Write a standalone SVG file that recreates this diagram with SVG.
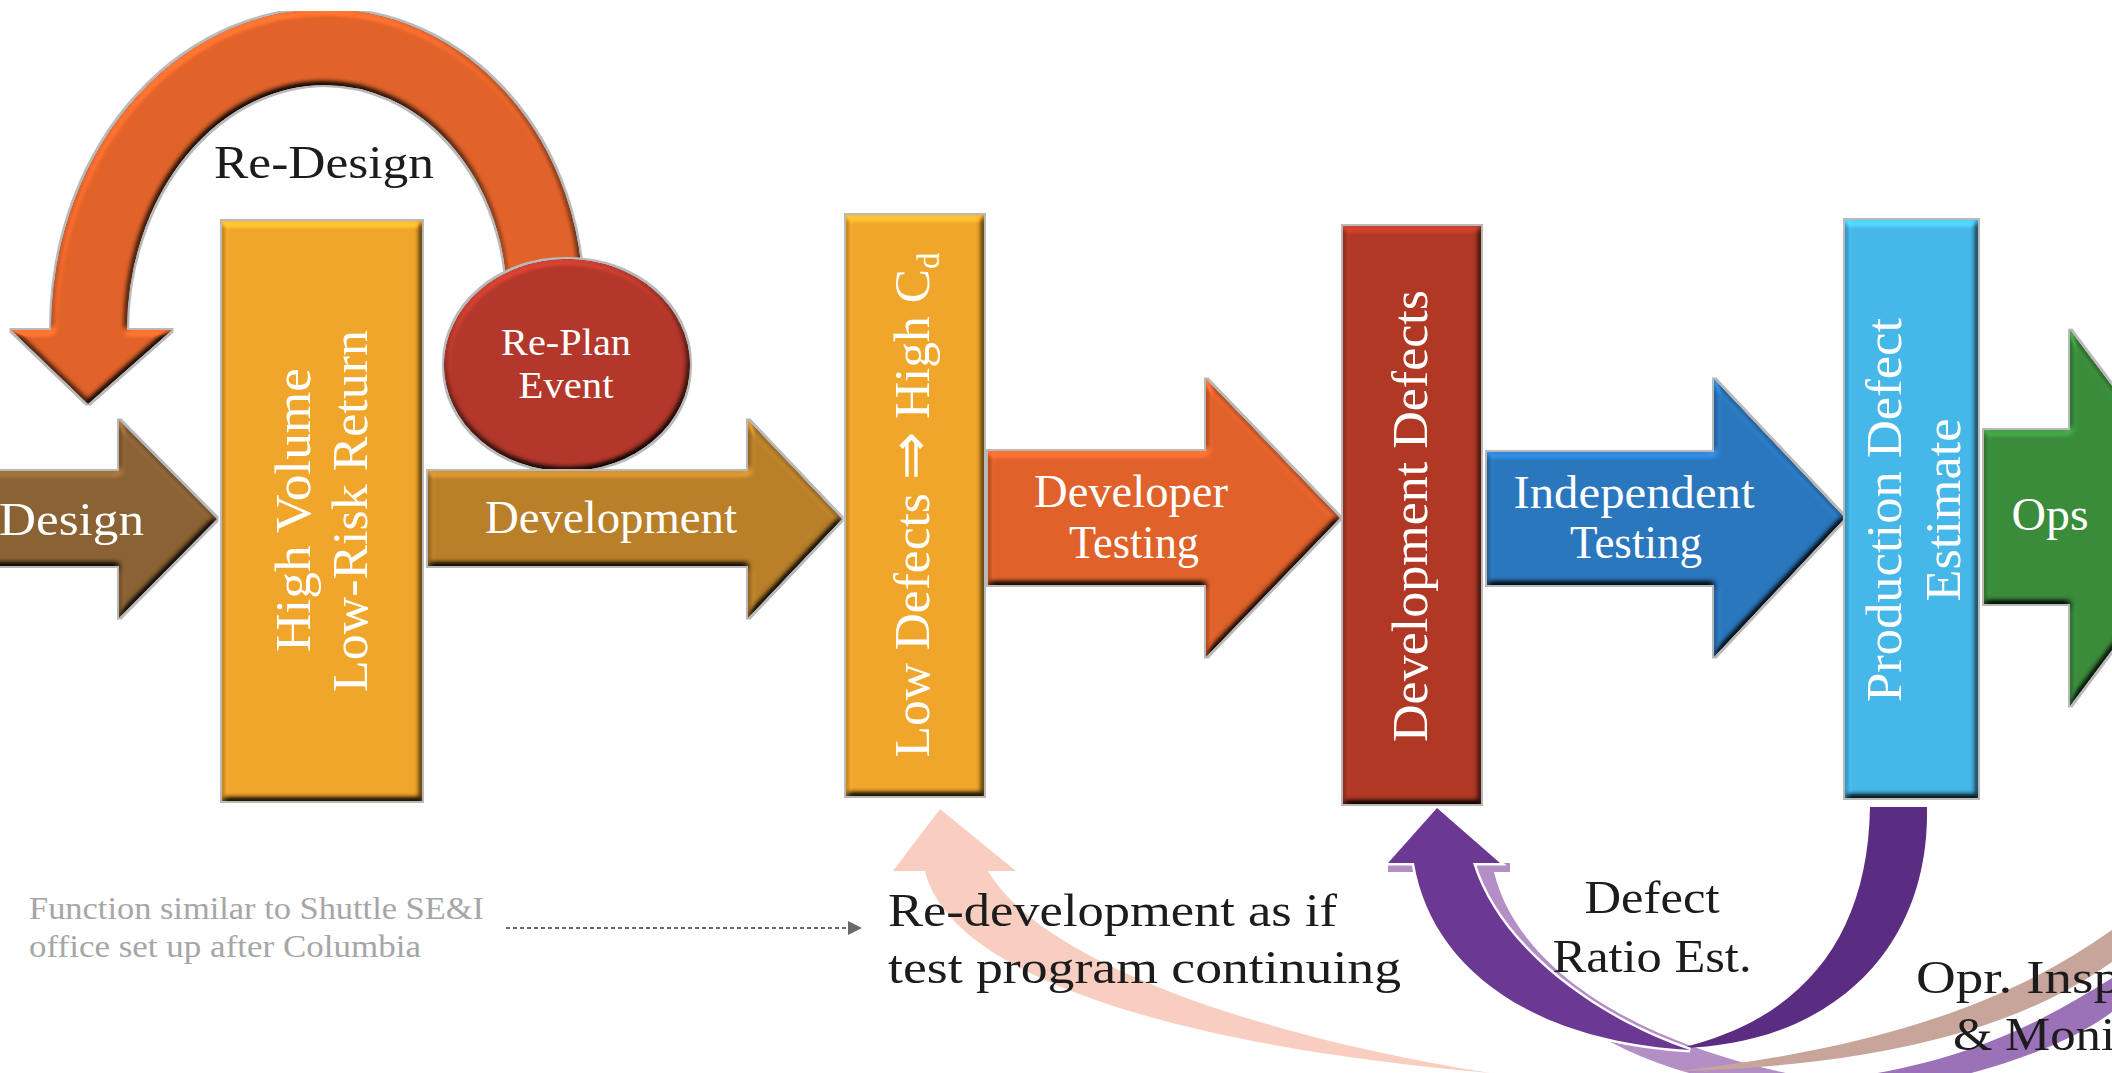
<svg xmlns="http://www.w3.org/2000/svg" width="2112" height="1073" viewBox="0 0 2112 1073">
  <defs>
    <!-- bevelled, lit look with a light grey rim for the process shapes -->
    <filter id="bevel" x="-10%" y="-10%" width="120%" height="120%" color-interpolation-filters="sRGB">
      <feMorphology in="SourceAlpha" operator="dilate" radius="2" result="grow"/>
      <feFlood flood-color="#b9b9b9" result="grey"/>
      <feComposite in="grey" in2="grow" operator="in" result="rim"/>
      <feGaussianBlur in="SourceAlpha" stdDeviation="3" result="blur"/>
      <feDiffuseLighting in="blur" surfaceScale="5" diffuseConstant="1" lighting-color="#ffffff" result="light">
        <feDistantLight azimuth="250" elevation="55"/>
      </feDiffuseLighting>
      <feComposite in="SourceGraphic" in2="light" operator="arithmetic" k1="1.22" k2="0" k3="0" k4="0" result="lit"/>
      <feComposite in="lit" in2="SourceAlpha" operator="in" result="shape"/>
      <feMerge>
        <feMergeNode in="rim"/>
        <feMergeNode in="shape"/>
      </feMerge>
    </filter>
    <marker id="tri" viewBox="0 0 10 10" refX="0" refY="5" markerWidth="14" markerHeight="14" markerUnits="userSpaceOnUse" orient="auto" preserveAspectRatio="none">
      <path d="M0,0 L10,5 L0,10 Z" fill="#6a6a6a"/>
    </marker>
  </defs>
  <style>
    .bev { filter: url(#bevel); }
    .t { font-family: "Liberation Serif", "Times New Roman", serif; }
    .w { fill: #ffffff; }
    .k { fill: #1c1c1c; }
    .g { fill: #a6a6a6; }
    .f50 { font-size: 50px; }
    .f47 { font-size: 47px; }
    .f46 { font-size: 46px; }
    .f38 { font-size: 38px; }
    .f31 { font-size: 31px; }
    .mid { text-anchor: middle; }
  </style>

  <rect width="2112" height="1073" fill="#ffffff"/>

  <!-- feedback arrows and pointer -->
  <g id="connectors">
    <g id="redesign-arc" class="bev">
      <path d="M 545 300 A 220 253 0 0 0 325 47 A 236 283 0 0 0 89 331" fill="none" stroke="#e2632a" stroke-width="76"/>
      <polygon points="11,330 172,330 88,404" fill="#e2632a"/>
    </g>
    <path id="redevelop-arrow" fill="#f8cec1" d="M 940 809 L 1016 871 L 988 871 C 1040 960, 1250 1035, 1490 1073 C 1170 1045, 950 975, 925 871 L 893 871 Z"/>
    <path id="ratio-echo" fill="#b48fc6" d="M 1388 863 L 1510 863 L 1510 872 L 1494 872 C 1515 960, 1620 1040, 1800 1076 L 1700 1076 C 1600 1050, 1500 990, 1478 872 L 1388 872 Z"/>
    <path id="opr-band-a" fill="#c8a59b" d="M 2112 930 C 2000 1010, 1860 1050, 1680 1071 C 1860 1066, 2010 1035, 2112 962 Z"/>
    <path id="opr-band-b" fill="#9b71b7" d="M 2112 978 C 2030 1030, 1960 1060, 1860 1076 L 1960 1076 C 2030 1058, 2080 1036, 2112 1012 Z"/>
    <path id="ratio-down" fill="#5a2c82" d="M 1870 807 L 1927 807 C 1930 950, 1830 1045, 1680 1048 C 1800 1020, 1868 940, 1870 807 Z"/>
    <path id="ratio-up" fill="#6b3894" stroke="#ffffff" stroke-width="5" paint-order="stroke" d="M 1437 808 L 1500 863 L 1473 863 C 1500 950, 1600 1020, 1690 1050 C 1520 1040, 1430 960, 1414 863 L 1388 863 Z"/>
    <line id="note-pointer" x1="506" y1="928" x2="848" y2="928" stroke="#6a6a6a" stroke-width="2" stroke-dasharray="4 3" marker-end="url(#tri)"/>
  </g>

  <!-- process flow -->
  <g id="design">
    <polygon class="bev" fill="#8b6234" points="-10,471 119,471 119,420 217,519 119,618 119,566 -10,566"/>
    <text class="t w f46" x="-1" y="535" textLength="145" lengthAdjust="spacingAndGlyphs">Design</text>
  </g>

  <g id="high-volume">
    <rect class="bev" fill="#f0a62a" x="222" y="221" width="200" height="580"/>
    <text class="t w f50 mid" x="310" y="510" transform="rotate(-90 310 510)" textLength="284" lengthAdjust="spacingAndGlyphs">High Volume</text>
    <text class="t w f50 mid" x="367" y="511" transform="rotate(-90 367 511)" textLength="362" lengthAdjust="spacingAndGlyphs">Low-Risk Return</text>
  </g>

  <g id="re-plan">
    <ellipse class="bev" fill="#b3372a" cx="567" cy="365" rx="123" ry="106"/>
    <text class="t w f38 mid" x="566" y="355" textLength="130" lengthAdjust="spacingAndGlyphs">Re-Plan</text>
    <text class="t w f38 mid" x="566" y="398" textLength="95" lengthAdjust="spacingAndGlyphs">Event</text>
  </g>

  <g id="development">
    <polygon class="bev" fill="#b97f29" points="428,471 748,471 748,420 842,519 748,618 748,566 428,566"/>
    <text class="t w f46 mid" x="611" y="533" textLength="252" lengthAdjust="spacingAndGlyphs">Development</text>
  </g>

  <g id="low-defects">
    <rect class="bev" fill="#f0a62a" x="846" y="215" width="138" height="581"/>
    <text class="t w f50 mid" x="929" y="505" transform="rotate(-90 929 505)" textLength="505" lengthAdjust="spacingAndGlyphs">Low Defects <tspan font-size="56">⇒</tspan> High C<tspan font-size="32" dy="10">d</tspan></text>
  </g>

  <g id="developer-testing">
    <polygon class="bev" fill="#e0612a" points="988,451 1206,451 1206,379 1340,518 1206,657 1206,585 988,585"/>
    <text class="t w f46 mid" x="1131" y="507" textLength="194" lengthAdjust="spacingAndGlyphs">Developer</text>
    <text class="t w f46 mid" x="1134" y="558" textLength="130" lengthAdjust="spacingAndGlyphs">Testing</text>
  </g>

  <g id="development-defects">
    <rect class="bev" fill="#b03825" x="1343" y="226" width="138" height="578"/>
    <text class="t w f50 mid" x="1427" y="516" transform="rotate(-90 1427 516)" textLength="452" lengthAdjust="spacingAndGlyphs">Development Defects</text>
  </g>

  <g id="independent-testing">
    <polygon class="bev" fill="#2a77be" points="1487,452 1714,452 1714,379 1845,518 1714,657 1714,585 1487,585"/>
    <text class="t w f46 mid" x="1634" y="508" textLength="241" lengthAdjust="spacingAndGlyphs">Independent</text>
    <text class="t w f46 mid" x="1636" y="558" textLength="132" lengthAdjust="spacingAndGlyphs">Testing</text>
  </g>

  <g id="production-defect-estimate">
    <rect class="bev" fill="#45b7e8" x="1845" y="220" width="133" height="578"/>
    <text class="t w f50 mid" x="1901" y="510" transform="rotate(-90 1901 510)" textLength="384" lengthAdjust="spacingAndGlyphs">Production Defect</text>
    <text class="t w f50 mid" x="1960" y="510" transform="rotate(-90 1960 510)" textLength="183" lengthAdjust="spacingAndGlyphs">Estimate</text>
  </g>

  <g id="ops">
    <polygon class="bev" fill="#3a8c3b" points="1984,430 2070,430 2070,330 2211,518 2070,706 2070,604 1984,604"/>
    <text class="t w f46 mid" x="2050" y="530" textLength="77" lengthAdjust="spacingAndGlyphs">Ops</text>
  </g>

  <!-- connector labels and note -->
  <g id="labels">
    <text class="t k f46 mid" x="324" y="178" textLength="220" lengthAdjust="spacingAndGlyphs">Re-Design</text>
    <text class="t g f31" x="29" y="919" textLength="455" lengthAdjust="spacingAndGlyphs">Function similar to Shuttle SE&amp;I</text>
    <text class="t g f31" x="29" y="957" textLength="392" lengthAdjust="spacingAndGlyphs">office set up after Columbia</text>
    <text class="t k f47" x="888" y="926" textLength="449" lengthAdjust="spacingAndGlyphs">Re-development as if</text>
    <text class="t k f47" x="888" y="983" textLength="513" lengthAdjust="spacingAndGlyphs">test program continuing</text>
    <text class="t k f47 mid" x="1652" y="913" textLength="135" lengthAdjust="spacingAndGlyphs">Defect</text>
    <text class="t k f47 mid" x="1652" y="972" textLength="199" lengthAdjust="spacingAndGlyphs">Ratio Est.</text>
    <text class="t k f47" x="1916" y="993" textLength="205" lengthAdjust="spacingAndGlyphs">Opr. Insp</text>
    <text class="t k f47" x="1953" y="1050" textLength="162" lengthAdjust="spacingAndGlyphs">&amp; Moni</text>
  </g>
</svg>
